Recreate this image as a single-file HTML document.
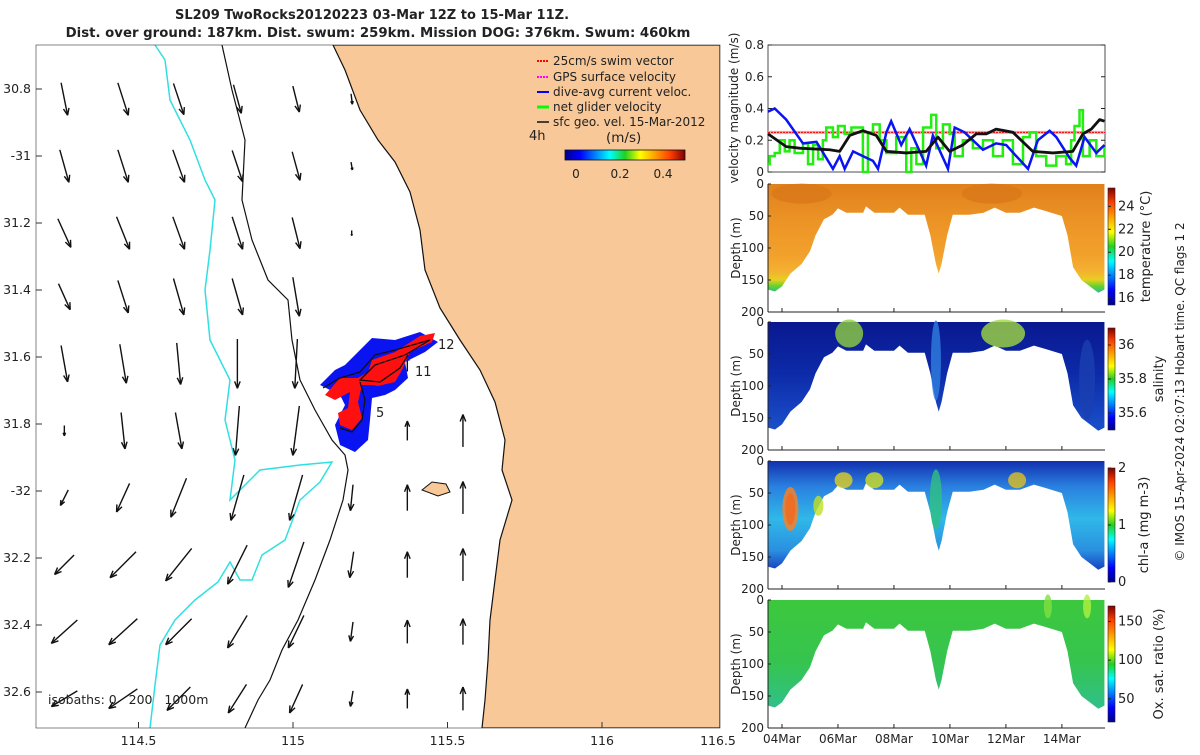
<!DOCTYPE html>
<html><head><meta charset="utf-8"><style>
body{margin:0;background:#fff;}
svg text{font-family:"DejaVu Sans","Liberation Sans",sans-serif;fill:#222;}
</style></head><body>
<svg id="fig" width="1200" height="750" viewBox="0 0 1200 750" xmlns="http://www.w3.org/2000/svg">
<defs>
<linearGradient id="jet" x1="0" x2="1" y1="0" y2="0">
<stop offset="0" stop-color="#00008f"/><stop offset="0.125" stop-color="#0000ff"/><stop offset="0.375" stop-color="#00ffff"/><stop offset="0.5" stop-color="#20d020"/><stop offset="0.625" stop-color="#ffff00"/><stop offset="0.875" stop-color="#ff4000"/><stop offset="1" stop-color="#800000"/></linearGradient>
<linearGradient id="jetv" x1="0" x2="0" y1="1" y2="0">
<stop offset="0" stop-color="#00008f"/><stop offset="0.125" stop-color="#0000ff"/><stop offset="0.375" stop-color="#00ffff"/><stop offset="0.5" stop-color="#20d020"/><stop offset="0.625" stop-color="#ffff00"/><stop offset="0.875" stop-color="#ff4000"/><stop offset="1" stop-color="#800000"/></linearGradient>
<linearGradient id="gTemp" x1="0" x2="0" y1="184" y2="312" gradientUnits="userSpaceOnUse">
<stop offset="0" stop-color="#e0801c"/><stop offset="0.3" stop-color="#ec9426"/><stop offset="0.55" stop-color="#f2a02c"/><stop offset="0.68" stop-color="#f4b030"/><stop offset="0.75" stop-color="#e6d020"/><stop offset="0.8" stop-color="#60d030"/><stop offset="0.86" stop-color="#20b8b0"/></linearGradient>
<linearGradient id="gSal" x1="0" x2="0" y1="322" y2="450" gradientUnits="userSpaceOnUse">
<stop offset="0" stop-color="#0a1890"/><stop offset="0.4" stop-color="#0c2aa8"/><stop offset="0.8" stop-color="#1a4cc8"/></linearGradient>
<linearGradient id="gChl" x1="0" x2="0" y1="461" y2="589" gradientUnits="userSpaceOnUse">
<stop offset="0" stop-color="#1230b0"/><stop offset="0.2" stop-color="#2a80e0"/><stop offset="0.45" stop-color="#30b8e8"/><stop offset="0.7" stop-color="#2a90e0"/><stop offset="0.85" stop-color="#1840c0"/></linearGradient>
<linearGradient id="gOx" x1="0" x2="0" y1="600" y2="727" gradientUnits="userSpaceOnUse">
<stop offset="0" stop-color="#3cc83c"/><stop offset="0.5" stop-color="#36c450"/><stop offset="0.85" stop-color="#30c08a"/></linearGradient>
<clipPath id="mapclip"><rect x="36" y="45" width="684" height="683"/></clipPath>
</defs>

<text x="372" y="19" text-anchor="middle" font-size="13" font-weight="bold">SL209 TwoRocks20120223 03-Mar 12Z to 15-Mar 11Z.</text>
<text x="378" y="37" text-anchor="middle" font-size="13.3" font-weight="bold">Dist. over ground: 187km. Dist. swum: 259km. Mission DOG: 376km. Swum: 460km</text>

<g id="map" clip-path="url(#mapclip)">
<rect x="36" y="45" width="684" height="683" fill="#fff"/>
<path fill="#f8c898" stroke="#111" stroke-width="1.2" d="M333,45 L345,70 L360,110 L378,140 L395,162 L410,192 L420,230 L425,270 L440,308 L460,340 L480,370 L495,402 L505,440 L502,470 L512,500 L500,540 L495,580 L490,620 L488,660 L485,700 L482,728 L720,728 L720,45 Z"/>
<path fill="#f8c898" stroke="#111" d="M422,490 L432,482 L446,484 L450,492 L438,496 Z"/>
<path fill="none" stroke="#111" stroke-width="1.2" d="M222,45 L232,90 L245,140 L242,200 L252,240 L268,280 L288,300 L292,340 L300,380 L315,410 L332,440 L345,455 L348,470 L343,500 L330,540 L315,580 L298,620 L282,650 L270,680 L258,700 L245,728"/>
<path fill="none" stroke="#30e0e0" stroke-width="1.5" d="M155,45 L165,60 L170,100 L190,140 L205,180 L215,200 L210,250 L205,290 L210,340 L230,380 L225,420 L235,460 L230,500 L260,470 L300,465 L332,462 L320,482 L300,500 L285,540 L262,555 L252,580 L240,580 L230,562 L218,582 L195,600 L175,620 L160,645 L155,685 L150,728"/>
<g id="arrows"></g>
<path fill="#0a14f0" d="M320,385 L335,370 L345,365 L358,352 L372,338 L395,340 L420,332 L438,342 L425,352 L405,362 L408,378 L395,390 L385,395 L372,398 L370,420 L368,440 L355,452 L340,445 L335,425 L345,405 L340,395 Z"/>
<path fill="#ff1010" d="M325,395 L340,378 L358,378 L368,372 L372,360 L395,352 L420,336 L435,333 L432,342 L410,352 L402,370 L395,382 L378,386 L372,385 L362,385 L358,402 L362,418 L352,430 L340,425 L338,413 L348,408 L350,392 L335,400 Z"/>
<path fill="none" stroke="#111" stroke-width="1.3" d="M323,388 L340,378 L360,372 L375,355 L395,350 L430,340 L405,355 L375,365 L360,380 L380,382 L400,368 L408,355 M360,382 L365,400 L362,420 L352,432 L340,428"/>
<text x="438" y="349" font-size="13">12</text>
<text x="415" y="376" font-size="13">11</text>
<text x="376" y="417" font-size="13">5</text>
<text x="48" y="704" font-size="12.5" xml:space="preserve">isobaths: 0   200   1000m</text>
<g font-size="12">
<line x1="537" y1="61" x2="549" y2="61" stroke="#f00" stroke-width="2" stroke-dasharray="2 1"/><text x="553" y="65">25cm/s swim vector</text>
<line x1="537" y1="77" x2="549" y2="77" stroke="#f0f" stroke-width="2" stroke-dasharray="2 1"/><text x="553" y="81">GPS surface velocity</text>
<line x1="537" y1="92" x2="549" y2="92" stroke="#00f" stroke-width="2"/><text x="553" y="96">dive-avg current veloc.</text>
<line x1="537" y1="107" x2="549" y2="107" stroke="#0f0" stroke-width="3"/><text x="553" y="111">net glider velocity</text>
<line x1="537" y1="122" x2="549" y2="122" stroke="#111" stroke-width="1.5"/><text x="553" y="126">sfc geo. vel. 15-Mar-2012</text>
<text x="529" y="140" font-size="13">4h</text>
<text x="606" y="142" font-size="13.5">(m/s)</text>
<rect x="565" y="150" width="120" height="10" fill="url(#jet)" stroke="#111" stroke-width="0.8"/>
<text x="576" y="178" text-anchor="middle">0</text><text x="620" y="178" text-anchor="middle">0.2</text><text x="663" y="178" text-anchor="middle">0.4</text>
</g>
</g>
<rect x="36" y="45" width="684" height="683" fill="none" stroke="#333" stroke-width="0.6"/>
<g id="mapTicks" font-size="12.5"></g>

<g id="velPanel"></g>
<g id="sections"></g>
<text transform="translate(1184,392) rotate(-90)" text-anchor="middle" font-size="12">© IMOS 15-Apr-2024 02:07:13 Hobart time. QC flags 1  2</text>
</svg>
<script>
const NS="http://www.w3.org/2000/svg";
function mk(tag,attrs,parent){const e=document.createElementNS(NS,tag);for(const k in attrs)e.setAttribute(k,attrs[k]);parent.appendChild(e);return e;}

const mapLonTicks=[114.5,115,115.5,116];
const mapLatTicks=[30.8,31,31.2,31.4,31.6,31.8,32,32.2,32.4,32.6];
const mapLatLabels=["30.8","-31","31.2","31.4","31.6","31.8","-32","32.2","32.4","32.6"];
const arrowLons=[114.26,114.45,114.63,114.82,115.01,115.19,115.37,115.55];
const arrowLats=[30.83,31.03,31.23,31.42,31.62,31.82,32.02,32.22,32.42,32.62];
const arrowU=[[5,8,8,6,5,1,null,null],[7,8,9,8,6,1,null,null],[10,10,9,8,6,0,null,null],[9,8,8,8,5,null,null,null],[5,5,3,0,-2,-1,0,null],[0,3,5,-3,-5,-3,0,0],[-6,-10,-12,-10,-10,-2,0,0],[-15,-20,-20,-15,-12,-3,0,0],[-20,-22,-20,-15,-12,-2,0,0],[-20,-22,-18,-14,-10,-2,0,0]];
const arrowV=[[-25,-25,-24,-22,-20,-8,null,null],[-25,-25,-25,-24,-22,-6,null,null],[-22,-25,-25,-25,-24,-4,null,null],[-20,-25,-28,-28,-30,null,null,null],[-28,-30,-32,-38,-38,-5,12,null],[-8,-28,-28,-38,-38,-20,15,25],[-12,-22,-30,-35,-35,-20,20,25],[-15,-20,-25,-30,-35,-20,20,25],[-18,-20,-20,-25,-25,-15,18,20],[-12,-15,-18,-22,-22,-12,15,18]];
const lonX=l=>293+(l-115)*309;
const latY=l=>89+(l-30.8)*335;
const ARROW_SCALE=1.3;

const ag=document.getElementById('arrows');
arrowLats.forEach((la,i)=>arrowLons.forEach((lo,j)=>{
  const u=arrowU[i][j],v=arrowV[i][j]; if(u===null||v===null)return;
  const cx=lonX(lo),cy=latY(la),dx=u*ARROW_SCALE,dy=-v*ARROW_SCALE;
  const x0=cx-dx/2,y0=cy-dy/2,x1=cx+dx/2,y1=cy+dy/2;
  const L=Math.hypot(dx,dy)||1,ux=dx/L,uy=dy/L,h=Math.min(7,L*0.3);
  const g=mk('g',{},ag);
  
  
  mk('line',{x1:x0,y1:y0,x2:x1,y2:y1,stroke:'#111','stroke-width':1.4},g);
  mk('path',{d:`M${x1},${y1} L${x1-h*ux+h*0.4*uy},${y1-h*uy-h*0.4*ux} M${x1},${y1} L${x1-h*ux-h*0.4*uy},${y1-h*uy+h*0.4*ux}`,stroke:'#111','stroke-width':1.4,fill:'none'},g);
}));
const mt=document.getElementById('mapTicks');
mapLonTicks.forEach(l=>{const x=lonX(l);
  const t=mk('text',{x:x,y:745,'text-anchor':'middle'},mt);t.textContent=String(l);
  
  mk('line',{x1:x,y1:728,x2:x,y2:722,stroke:'#333'},mt);});
{const t=mk('text',{x:718,y:745,'text-anchor':'middle'},mt);t.textContent='116.5';
 }
mapLatTicks.forEach((l,i)=>{const y=latY(l);
  const t=mk('text',{x:31,y:y+4,'text-anchor':'end'},mt);t.textContent=mapLatLabels[i];
  
  mk('line',{x1:36,y1:y,x2:42,y2:y,stroke:'#333'},mt);});

const blueT=[3.5,3.74,4.15,4.75,5.23,5.82,6.06,6.24,6.54,6.89,7.25,7.43,7.73,7.90,8.26,8.56,9.15,9.39,9.93,10.17,10.52,11.18,11.65,12.01,12.37,12.79,13.14,13.56,13.80,14.27,14.51,14.81,15.23,15.52];
const blueV=[0.38,0.40,0.33,0.18,0.19,0.02,0.10,0.02,0.13,0.10,0.07,0.02,0.25,0.32,0.17,0.27,0.04,0.23,0.02,0.28,0.25,0.14,0.18,0.17,0.10,0.02,0.20,0.26,0.22,0.09,0.04,0.22,0.12,0.17];
const blackT=[3.5,4.15,4.63,5.70,6.06,6.42,6.89,7.37,7.73,8.44,9.15,9.57,9.99,10.46,10.94,11.30,11.65,12.25,12.96,13.68,14.39,14.75,15.05,15.35,15.52];
const blackV=[0.24,0.16,0.15,0.14,0.13,0.23,0.26,0.23,0.13,0.12,0.13,0.22,0.13,0.17,0.24,0.24,0.27,0.25,0.13,0.12,0.13,0.24,0.27,0.33,0.32];
const greenT=[3.5,3.56,3.74,3.92,4.10,4.27,4.45,4.75,4.93,5.11,5.29,5.46,5.58,5.82,6.0,6.24,6.48,6.89,7.07,7.25,7.49,7.73,8.08,8.44,8.62,8.80,9.04,9.33,9.51,9.75,9.99,10.17,10.46,10.82,11.18,11.54,11.89,12.25,12.61,12.85,13.08,13.44,13.80,14.15,14.33,14.45,14.63,14.75,14.99,15.23,15.52];
const greenV=[0.05,0.10,0.12,0.20,0.13,0.20,0.12,0.18,0.05,0.17,0.08,0.20,0.28,0.22,0.29,0.24,0.28,0.0,0.25,0.30,0.20,0.12,0.22,0.0,0.15,0.05,0.28,0.36,0.15,0.30,0.24,0.10,0.20,0.15,0.20,0.10,0.20,0.05,0.22,0.25,0.10,0.04,0.10,0.05,0.20,0.29,0.39,0.10,0.20,0.10,0.15];
const swimSpeed=0.25;
const velTicks=[0,0.2,0.4,0.6,0.8];
const dateTicks=[4,6,8,10,12,14];
const dateLabels=["04Mar","06Mar","08Mar","10Mar","12Mar","14Mar"];
const secT=[3.5,3.75,4.0,4.3,4.7,5.0,5.2,5.5,5.8,6.0,6.3,6.9,7.0,7.3,8.0,8.2,8.5,9.1,9.3,9.5,9.6,9.7,9.9,10.1,10.7,11.2,11.6,12.0,12.5,13.0,13.4,14.0,14.2,14.4,14.7,15.0,15.3,15.52];
const secD=[165,168,160,140,125,105,80,55,48,38,45,45,35,45,45,37,48,48,80,125,140,125,80,48,48,45,37,45,45,37,42,50,80,130,150,160,170,165];
const depthTicks=[0,50,100,150,200];

const X0=768,X1=1105,T0=3.5,T1=15.54;
const tx=t=>X0+(t-T0)/(T1-T0)*(X1-X0);

const vp=document.getElementById('velPanel');
const VY0=172,VY1=45;const vy=v=>VY0+(v-0)/(0.8)*(VY1-VY0);
mk('rect',{x:X0,y:VY1,width:X1-X0,height:VY0-VY1,fill:'#fff',stroke:'#222','stroke-width':0.8},vp);
velTicks.forEach(v=>{const y=vy(v);mk('line',{x1:X0,y1:y,x2:X0+4,y2:y,stroke:'#222'},vp);mk('line',{x1:X1,y1:y,x2:X1-4,y2:y,stroke:'#222'},vp);
  const t=mk('text',{x:X0-4,y:y+4,'text-anchor':'end','font-size':12},vp);t.textContent=String(v);
  });
let ls=mk('line',{x1:X0,y1:vy(swimSpeed),x2:X1,y2:vy(swimSpeed),stroke:'#ffa0a0','stroke-width':3},vp);

ls=mk('line',{x1:X0,y1:vy(swimSpeed),x2:X1,y2:vy(swimSpeed),stroke:'#e00','stroke-width':1,'stroke-dasharray':'2 1'},vp);

let gd='';greenT.forEach((t,i)=>{const x=tx(t),y=vy(greenV[i]);if(i===0)gd+=`M${x},${y}`;else gd+=` L${x},${vy(greenV[i-1])} L${x},${y}`;});gd+=` L${X1},${vy(greenV[greenV.length-1])}`;
let p=mk('path',{d:gd,fill:'none',stroke:'#22ee10','stroke-width':2.5},vp);

p=mk('path',{d:blueT.map((t,i)=>(i?'L':'M')+tx(t)+','+vy(blueV[i])).join(' '),fill:'none',stroke:'#0a14f0','stroke-width':2.5},vp);

p=mk('path',{d:blackT.map((t,i)=>(i?'L':'M')+tx(t)+','+vy(blackV[i])).join(' '),fill:'none',stroke:'#111','stroke-width':2.8,'stroke-linejoin':'round'},vp);

let vl=mk('text',{transform:'translate(738,108) rotate(-90)','text-anchor':'middle','font-size':12},vp);vl.textContent='velocity magnitude (m/s)';


const panels=[
 {name:'temperature',y0:184,fill:'url(#gTemp)',cbY0:188,cbY1:305,ticks:[16,18,20,22,24],tv0:15.4,tv1:25.6,title:'temperature (°C)',tx:1150},
 {name:'salinity',y0:322,fill:'url(#gSal)',cbY0:328,cbY1:430,ticks:[35.6,35.8,36],tv0:35.5,tv1:36.1,title:'salinity',tx:1163},
 {name:'chl-a',y0:461,fill:'url(#gChl)',cbY0:468,cbY1:582,ticks:[0,1,2],tv0:0,tv1:2,title:'chl-a (mg m-3)',tx:1148},
 {name:'oxygen',y0:600,fill:'url(#gOx)',cbY0:606,cbY1:722,ticks:[50,100,150],tv0:20,tv1:170,title:'Ox. sat. ratio (%)',tx:1163}];
const sg=document.getElementById('sections');
panels.forEach((P,k)=>{
  const g=mk('g',{},sg);
  
  const dy=d=>P.y0+d/200*128;
  let d=`M${tx(secT[0])},${dy(0)} `+secT.map((t,i)=>`L${tx(t)},${dy(secD[i])}`).join(' ')+` L${tx(secT[secT.length-1])},${dy(0)} Z`;
  const f=mk('path',{d:d,fill:P.fill},g);
  
  mk('line',{x1:X0,y1:P.y0,x2:X0,y2:P.y0+128,stroke:'#222'},g);
  mk('line',{x1:X0,y1:P.y0+128,x2:X1,y2:P.y0+128,stroke:'#222'},g);
  depthTicks.forEach(v=>{const y=dy(v);mk('line',{x1:X0,y1:y,x2:X0+3,y2:y,stroke:'#222'},g);
    const t=mk('text',{x:X0-4,y:y+4,'text-anchor':'end','font-size':12},g);t.textContent=String(v);
    });
  dateTicks.forEach(v=>{const x=tx(v);mk('line',{x1:x,y1:P.y0+128,x2:x,y2:P.y0+124,stroke:'#222'},g);});
  const yl=mk('text',{transform:`translate(740,${P.y0+64}) rotate(-90)`,'text-anchor':'middle','font-size':12},g);yl.textContent='Depth (m)';
  
  const cb=mk('rect',{x:1108,y:P.cbY0,width:7,height:P.cbY1-P.cbY0,fill:'url(#jetv)',stroke:'#222','stroke-width':0.6},g);
  
  P.ticks.forEach(v=>{const y=P.cbY1-(v-P.tv0)/(P.tv1-P.tv0)*(P.cbY1-P.cbY0);
    mk('line',{x1:1108,y1:y,x2:1111,y2:y,stroke:'#222'},g);
    const t=mk('text',{x:1118,y:y+4,'font-size':13},g);t.textContent=String(v);
    });
  const ct=mk('text',{transform:`translate(${P.tx},${(P.cbY0+P.cbY1)/2}) rotate(-90)`,'text-anchor':'middle','font-size':13},g);ct.textContent=P.title;
  
});
const blobs=[[0,4.7,15,'#d87818',30,10],[0,11.5,15,'#d87818',30,10],[1,6.4,18,'#90d040',14,14],[1,11.9,18,'#a0d840',22,14],[1,9.5,60,'#3080e0',5,40],[1,14.9,90,'#1a40b0',8,40],[2,4.3,75,'#c01010',5,16],[2,4.3,75,'#ff8020',8,22],[2,6.2,30,'#e0d020',9,8],[2,7.3,30,'#d0e020',9,8],[2,12.4,30,'#e0c020',9,8],[2,5.3,70,'#c0e020',5,10],[2,9.5,60,'#30c080',6,30],[3,14.9,10,'#b0f040',4,12],[3,13.5,10,'#80e040',4,12]];
blobs.forEach(b=>{const P=panels[b[0]];const e=mk('ellipse',{cx:tx(b[1]),cy:P.y0+b[2]/200*128,rx:b[4],ry:b[5],fill:b[3],opacity:0.8},sg);
  });
dateTicks.forEach((v,i)=>{const t=mk('text',{x:tx(v),y:743,'text-anchor':'middle','font-size':12},sg);t.textContent=dateLabels[i];
  });
</script>
</body></html>
